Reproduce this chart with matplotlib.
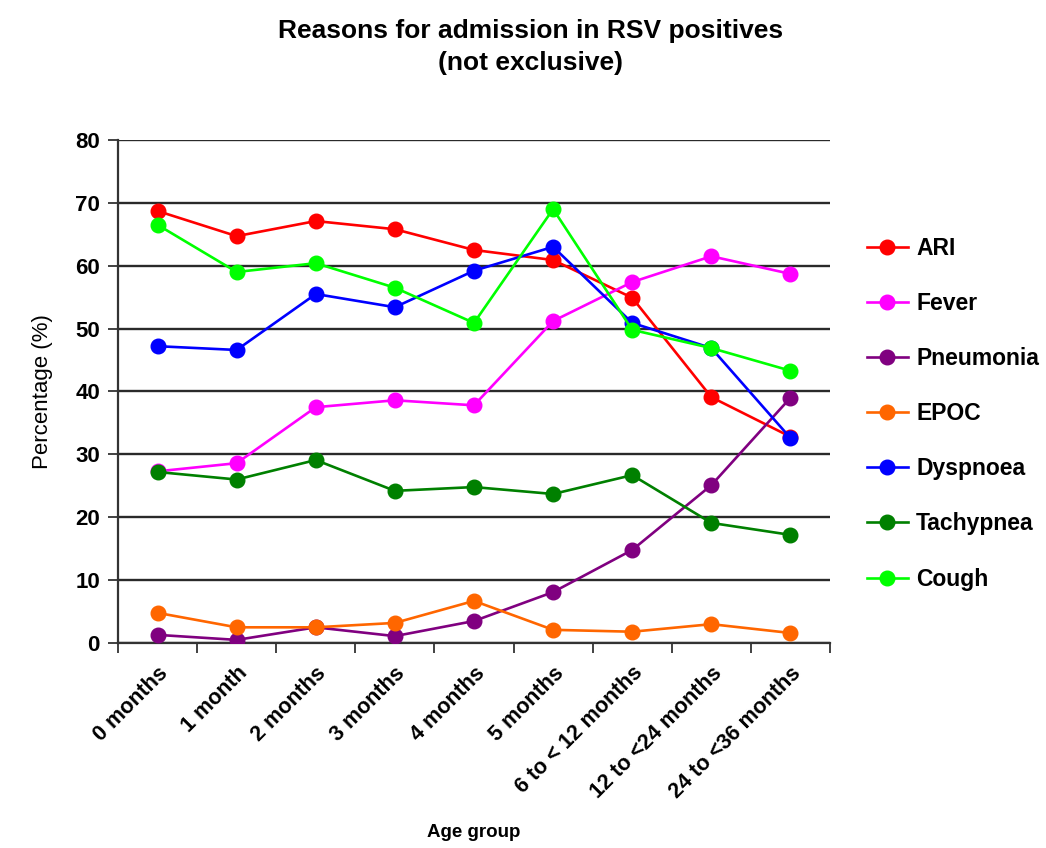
import matplotlib
matplotlib.use('Agg')
import matplotlib.pyplot as plt
import numpy as np

plt.rcParams['font.family'] = ['Liberation Sans', 'DejaVu Sans']

# Datos
age_groups = ['0 months', '1 month', '2 months', '3 months', '4 months',
              '5 months', '6 to < 12 months', '12 to <24 months', '24 to <36 months']

ari = [68.7, 64.7, 67.1, 65.8, 62.5, 60.9, 54.9, 39.1, 32.8]
fever = [27.3, 28.6, 37.5, 38.6, 37.8, 51.2, 57.4, 61.5, 58.7]
pneumonia = [1.3, 0.5, 2.5, 1.1, 3.5, 8.1, 14.8, 25.1, 39.0]
epoc = [4.8, 2.5, 2.5, 3.2, 6.7, 2.1, 1.8, 3.0, 1.6]
dyspnoea = [47.2, 46.6, 55.5, 53.4, 59.2, 63.0, 50.9, 46.9, 32.6]
tachypnea = [27.2, 26.0, 29.1, 24.2, 24.8, 23.7, 26.7, 19.1, 17.2]
cough = [66.5, 59.0, 60.4, 56.5, 50.9, 69.0, 49.8, 46.9, 43.3]

series = [
    ('ARI', ari, '#FF0000'),
    ('Fever', fever, '#FF00FF'),
    ('Pneumonia', pneumonia, '#800080'),
    ('EPOC', epoc, '#FF6600'),
    ('Dyspnoea', dyspnoea, '#0000FF'),
    ('Tachypnea', tachypnea, '#008000'),
    ('Cough', cough, '#00FF00'),
]

fig = plt.figure(figsize=(10.46, 8.48), dpi=100)
ax = fig.add_axes([0.1128, 0.2417, 0.6807, 0.5933])

x = np.arange(len(age_groups))
for name, vals, col in series:
    ax.plot(x, vals, color=col, lw=1.9, marker='o', markersize=10.5,
            label=name, zorder=3)

ax.set_ylim(0, 80)
ax.set_xlim(-0.5, len(age_groups) - 0.5)
ax.set_yticks(np.arange(0, 81, 10))
ax.yaxis.grid(True, color='#2a2a2a', lw=1.7, zorder=0)
ax.set_axisbelow(True)

ax.set_xticks(x)
ax.set_xticklabels(age_groups, rotation=45, ha='right', rotation_mode='anchor',
                   fontsize=15.5, fontweight='bold')
ax.set_xticks(np.arange(-0.5, len(age_groups)), minor=True)
ax.tick_params(axis='x', which='major', length=0, pad=14)
ax.tick_params(axis='x', which='minor', length=7, width=1.3, color='#333333')
ax.tick_params(axis='y', length=7, width=1.3, color='#333333', labelsize=16, pad=6)
for lab in ax.get_yticklabels():
    lab.set_fontweight('bold')

ax.spines['top'].set_visible(False)
ax.spines['right'].set_visible(False)
ax.spines['left'].set_color('#333333')
ax.spines['left'].set_linewidth(1.6)
ax.spines['bottom'].set_color('#333333')
ax.spines['bottom'].set_linewidth(1.6)

ax.set_ylabel('Percentage (%)', fontsize=16, labelpad=16)
fig.text(0.453, 0.018, 'Age group', ha='center', va='center',
         fontsize=13.5, fontweight='bold')

fig.suptitle('Reasons for admission in RSV positives\n(not exclusive)',
             x=0.507, y=0.978, fontsize=19, fontweight='bold', linespacing=1.45)

fig.legend(loc='center left', bbox_to_anchor=(0.809, 0.512), frameon=False,
           prop={'size': 16.5, 'weight': 'bold'}, labelspacing=1.4,
           handlelength=1.8, handletextpad=0.35)

fig.savefig('out.png', dpi=100)
